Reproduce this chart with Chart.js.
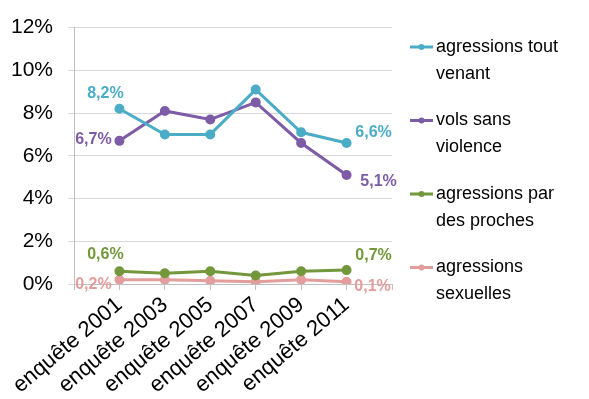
<!DOCTYPE html>
<html>
<head>
<meta charset="utf-8">
<script src="https://cdn.jsdelivr.net/npm/chart.js@4/dist/chart.umd.min.js"></script>
<style>
  html, body { margin: 0; padding: 0; background: #fff; }
  #wrap { width: 589px; height: 399px; }
</style>
</head>
<body>
<div id="wrap"><canvas id="victimChart" width="589" height="399"></canvas></div>
<script>
// enquêtes de victimation
var categories = ['enquête 2001', 'enquête 2003', 'enquête 2005', 'enquête 2007', 'enquête 2009', 'enquête 2011'];
var seriesNames = [
    ['agressions tout', 'venant'],
    ['vols sans', 'violence'],
    ['agressions par', 'des proches'],
    ['agressions', 'sexuelles']
];
var toutVenant = [8.2, 7.0, 7.0, 9.1, 7.1, 6.6];
var volsSansViolence = [6.7, 8.1, 7.7, 8.5, 6.6, 5.1];
var parDesProches = [0.6, 0.5, 0.6, 0.4, 0.6, 0.65];
var sexuelles = [0.2, 0.2, 0.15, 0.1, 0.2, 0.1];
var yTicks = [0, 2, 4, 6, 8, 10, 12];

var colors = ['#4bacc6', '#7d5ba6', '#72983b', '#e39d9c'];
// label offsets for first / last point [dx, dy]
var labelOffsets = [
    [[-14, -15], [27, -10]],
    [[-26, -1], [32, 7]],
    [[-14, -17], [27, -15]],
    [[-26, 5], [26, 5]]
];

function toPoints(values) {
    return values.map(function (v, i) { return { x: i + 1, y: v }; });
}

var allValues = [toutVenant, volsSansViolence, parDesProches, sexuelles];
var datasets = allValues.map(function (vals, i) {
    return {
        label: seriesNames[i].join(' '),
        data: toPoints(vals),
        borderColor: colors[i],
        backgroundColor: colors[i],
        borderWidth: 3,
        pointRadius: 3.5,
        pointHoverRadius: 3.5,
        tension: 0
    };
});

function fmt(v) {
    return v.toFixed(1).replace('.', ',') + '%';
}

var endLabels = {
    id: 'endLabels',
    afterDraw: function (chart) {
        var ctx = chart.ctx;
        ctx.save();
        ctx.font = 'bold 16px "Liberation Sans", Arial, sans-serif';
        ctx.textAlign = 'center';
        ctx.textBaseline = 'middle';
        chart.data.datasets.forEach(function (ds, i) {
            var meta = chart.getDatasetMeta(i);
            var ends = [0, ds.data.length - 1];
            ends.forEach(function (idx, k) {
                var pt = meta.data[idx];
                ctx.fillStyle = colors[i];
                ctx.fillText(fmt(ds.data[idx].y), pt.x + labelOffsets[i][k][0], pt.y + labelOffsets[i][k][1]);
            });
        });
        ctx.restore();
    }
};

var sideLegend = {
    id: 'sideLegend',
    afterDraw: function (chart) {
        var ctx = chart.ctx;
        var x0 = 410, top = 47, step = 73.5, lh = 27;
        ctx.save();
        ctx.font = '18px "Liberation Sans", Arial, sans-serif';
        ctx.textAlign = 'left';
        ctx.textBaseline = 'middle';
        seriesNames.forEach(function (lines, i) {
            var y = top + i * step;
            ctx.strokeStyle = colors[i];
            ctx.lineWidth = 3;
            ctx.beginPath();
            ctx.moveTo(x0, y);
            ctx.lineTo(x0 + 23, y);
            ctx.stroke();
            ctx.fillStyle = colors[i];
            ctx.beginPath();
            ctx.arc(x0 + 11.5, y, 3, 0, Math.PI * 2);
            ctx.fill();
            ctx.fillStyle = '#000';
            lines.forEach(function (t, j) {
                ctx.fillText(t, x0 + 26, y + j * lh);
            });
        });
        ctx.restore();
    }
};

var ctx = document.getElementById('victimChart').getContext('2d');
var victimChart = new Chart(ctx, {
    type: 'line',
    data: { datasets: datasets },
    options: {
        responsive: false,
        animation: false,
        layout: { padding: { top: 15, right: 197, left: 0, bottom: 0 } },
        plugins: {
            legend: { display: false },
            tooltip: { enabled: false }
        },
        scales: {
            x: {
                type: 'linear',
                min: 0,
                max: 7,
                grid: { drawOnChartArea: false, drawTicks: true, tickLength: 6, color: '#bfbfbf' },
                border: { color: '#bfbfbf' },
                afterFit: function (axis) {
                    axis.paddingLeft = 0;
                    axis.paddingRight = 0;
                    axis.height = 115;
                },
                ticks: {
                    stepSize: 1,
                    autoSkip: false,
                    minRotation: 40,
                    maxRotation: 40,
                    padding: 2,
                    color: '#000',
                    font: { family: '"Liberation Sans", Arial, sans-serif', size: 22 },
                    callback: function (v) { return categories[v - 1] || ''; }
                }
            },
            y: {
                min: 0,
                max: 12,
                afterBuildTicks: function (axis) {
                    axis.ticks = yTicks.map(function (v) { return { value: v }; });
                },
                afterFit: function (axis) {
                    axis.width = 74;
                },
                grid: { color: '#d9d9d9', tickLength: 6 },
                border: { color: '#bfbfbf' },
                ticks: {
                    color: '#000',
                    padding: 15,
                    font: { family: '"Liberation Sans", Arial, sans-serif', size: 21 },
                    callback: function (v) { return v + '%'; }
                }
            }
        }
    },
    plugins: [endLabels, sideLegend]
});
</script>
</body>
</html>
